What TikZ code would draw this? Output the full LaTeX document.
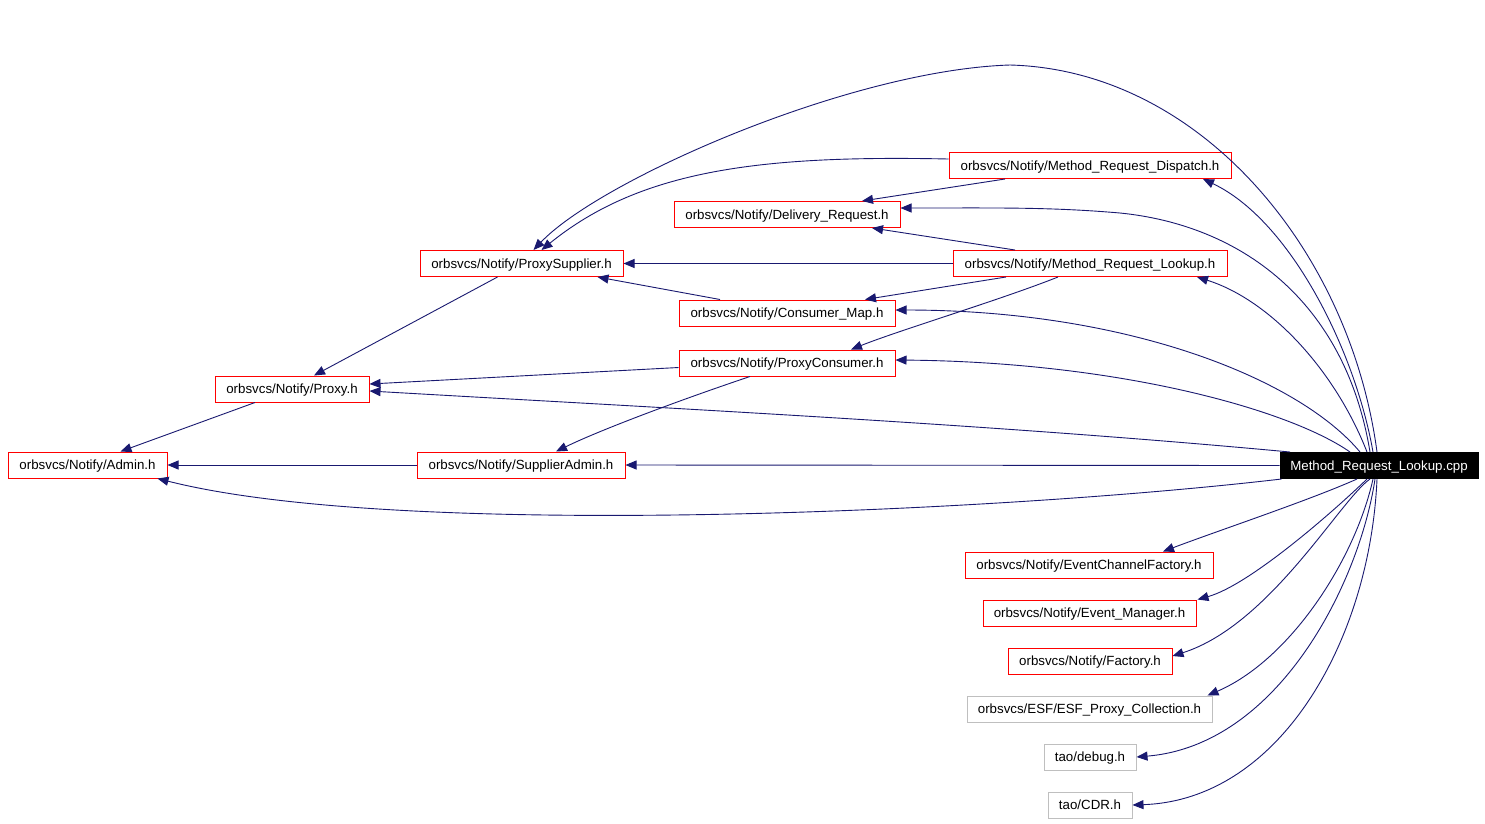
\documentclass[tikz,border=0pt]{standalone}
\usepackage{fontspec}
\setmainfont{Liberation Sans}
\usetikzlibrary{arrows.meta}
\definecolor{edgeblue}{RGB}{25,25,112}
\definecolor{boxred}{RGB}{255,0,0}
\definecolor{boxgray}{RGB}{191,191,191}
\begin{document}
\begin{tikzpicture}[x=1pt,y=-1pt,
  box/.style={draw=boxred, line width=1pt, minimum height=26pt, inner sep=0pt, text depth=0pt, font=\fontsize{13.3}{15}\selectfont},
  graybox/.style={box, draw=boxgray},
  mainbox/.style={box, draw=black, fill=black, text=white},
  dep/.style={draw=edgeblue, line width=0.9pt, -{Triangle[length=11pt,width=9pt]}}]
\useasboundingbox[fill=white] (0,0) rectangle (1485,823);

% nodes
\node[mainbox, minimum width=198pt] (cpp) at (1379,465.5) {Method\_Request\_Lookup.cpp};
\node[box, minimum width=282pt] (disp) at (1090,165.5) {orbsvcs/Notify/Method\_Request\_Dispatch.h};
\node[box, minimum width=226pt] (deliv) at (787,214.5) {orbsvcs/Notify/Delivery\_Request.h};
\node[box, minimum width=274pt] (mrl) at (1090,263.5) {orbsvcs/Notify/Method\_Request\_Lookup.h};
\node[box, minimum width=203pt] (psup) at (521.5,263.5) {orbsvcs/Notify/ProxySupplier.h};
\node[box, minimum width=216pt] (cmap) at (787,313) {orbsvcs/Notify/Consumer\_Map.h};
\node[box, minimum width=216pt] (pcons) at (787,363) {orbsvcs/Notify/ProxyConsumer.h};
\node[box, minimum width=154pt] (proxy) at (292,389) {orbsvcs/Notify/Proxy.h};
\node[box, minimum width=159pt] (admin) at (87.5,465) {orbsvcs/Notify/Admin.h};
\node[box, minimum width=208pt] (sadmin) at (521,465) {orbsvcs/Notify/SupplierAdmin.h};
\node[box, minimum width=248pt] (ecf) at (1089,565) {orbsvcs/Notify/EventChannelFactory.h};
\node[box, minimum width=213pt] (evm) at (1089.5,613) {orbsvcs/Notify/Event\_Manager.h};
\node[box, minimum width=164pt] (fact) at (1090,661) {orbsvcs/Notify/Factory.h};
\node[graybox, minimum width=245pt] (esf) at (1089.5,709) {orbsvcs/ESF/ESF\_Proxy\_Collection.h};
\node[graybox, minimum width=92pt] (dbg) at (1090,757) {tao/debug.h};
\node[graybox, minimum width=84pt] (cdr) at (1090,805) {tao/CDR.h};

% edges from the .cpp file
\draw[dep] ([xshift=-2pt]cpp.north) .. controls (1350,250) and (1200,70) .. (1010,65)
   .. controls (850,70) and (600,180) .. ([xshift=12pt]psup.north);
\draw[dep] ([xshift=-6pt]cpp.north) .. controls (1355,350) and (1290,220) .. ([xshift=113pt]disp.south);
\draw[dep] ([xshift=-9pt]cpp.north) .. controls (1345,300) and (1240,225) .. (1120,213)
   .. controls (1050,207) and (1000,208) .. ([yshift=6.5pt]deliv.east);
\draw[dep] ([xshift=-12pt]cpp.north) .. controls (1335,370) and (1270,300) .. ([xshift=107pt]mrl.south);
\draw[dep] ([xshift=-19pt]cpp.north) .. controls (1300,380) and (1130,310) .. ([yshift=3pt]cmap.east);
\draw[dep] ([xshift=-29pt]cpp.north) .. controls (1290,410) and (1120,362) .. ([yshift=3pt]pcons.east);
\draw[dep] ([xshift=-89pt]cpp.north) .. controls (1000,425) and (700,410) .. ([yshift=-2pt]proxy.east);
\draw[dep] (cpp.west) -- (sadmin.east);
\draw[dep] ([xshift=2pt]cpp.south west) .. controls (1000,512) and (400,540) .. ([xshift=70pt]admin.south);
\draw[dep] ([xshift=-22pt]cpp.south) .. controls (1310,500) and (1220,530) .. ([xshift=74pt]ecf.north);
\draw[dep] ([xshift=-12pt]cpp.south) .. controls (1335,510) and (1250,585) .. ([xshift=108pt]evm.north);
\draw[dep] ([xshift=-9pt]cpp.south) .. controls (1340,500) and (1270,625) .. ([yshift=5pt]fact.east);
\draw[dep] ([xshift=-6pt]cpp.south) .. controls (1355,560) and (1290,660) .. ([xshift=118pt]esf.north);
\draw[dep] ([xshift=-4pt]cpp.south) .. controls (1360,580) and (1280,745) .. (dbg.east);
\draw[dep] ([xshift=-2pt]cpp.south) .. controls (1370,640) and (1280,800) .. (cdr.east);

% edges between headers
\draw[dep] ([yshift=6.5pt]disp.west) .. controls (760,155) and (640,170) .. ([xshift=20pt]psup.north);
\draw[dep] ([xshift=-85pt]disp.south) -- ([xshift=75pt]deliv.north);
\draw[dep] ([xshift=-75pt]mrl.north) -- ([xshift=85pt]deliv.south);
\draw[dep] (mrl.west) -- (psup.east);
\draw[dep] ([xshift=-84pt]mrl.south) -- ([xshift=78pt]cmap.north);
\draw[dep] ([xshift=-32pt]mrl.south) .. controls (1000,300) and (900,330) .. ([xshift=64pt]pcons.north);
\draw[dep] ([xshift=-67pt]cmap.north) -- ([xshift=76pt]psup.south);
\draw[dep] ([yshift=-4.5pt]pcons.west) -- ([yshift=5pt]proxy.east);
\draw[dep] ([xshift=-37pt]pcons.south) .. controls (680,400) and (600,430) .. ([xshift=35pt]sadmin.north);
\draw[dep] ([xshift=-24pt]psup.south) -- ([xshift=22pt]proxy.north);
\draw[dep] ([xshift=-37pt]proxy.south) -- ([xshift=33pt]admin.north);
\draw[dep] (sadmin.west) -- (admin.east);
\end{tikzpicture}
\end{document}
